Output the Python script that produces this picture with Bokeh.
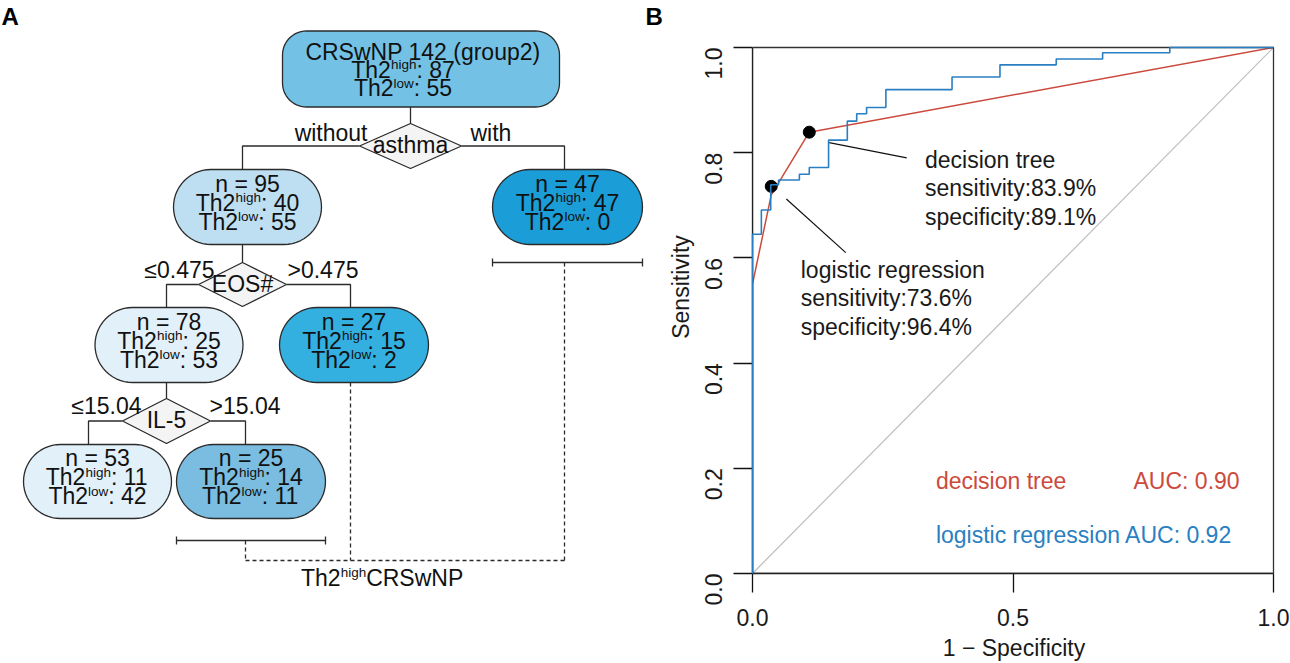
import math
from bokeh.plotting import figure
from bokeh.models import Range1d, FixedTicker, PrintfTickFormatter, BoxAnnotation
from bokeh.layouts import row
from bokeh.core.properties import value
from bokeh.embed import file_html
from bokeh.resources import INLINE

# ---------------- data: panel A (decision tree) ----------------
root_title = "CRSwNP 142 (group2)"
node_n = [142, 95, 47, 78, 27, 53, 25]
node_th2_high = [87, 40, 47, 25, 15, 11, 14]
node_th2_low = [55, 55, 0, 53, 2, 42, 11]
split_vars = ["asthma", "EOS#", "IL-5"]
split_left_labels = ["without", "≤0.475", "≤15.04"]
split_right_labels = ["with", ">0.475", ">15.04"]
split_parent = [0, 1, 3]
split_children = [(1, 2), (3, 4), (5, 6)]
positive_leaves = [2, 4, 6]
bracket_leaves = [2, 6]
leaf_group_label = ["Th2", "high", "CRSwNP"]

# ---------------- data: panel B (ROC) ----------------
lr_fpr = [0.000, 0.000, 0.017, 0.035, 0.050, 0.090, 0.109, 0.146, 0.182, 0.200,
          0.219, 0.256, 0.383, 0.475, 0.583, 0.672, 0.801, 1.000]
lr_tpr = [0.000, 0.645, 0.691, 0.739, 0.748, 0.759, 0.772, 0.824, 0.860, 0.874,
          0.886, 0.920, 0.944, 0.967, 0.978, 0.990, 1.000, 1.000]
dt_fpr = [0.0, 0.0, 0.036, 0.109, 1.0]
dt_tpr = [0.0, 0.55, 0.72, 0.839, 1.0]
cut_sens = [0.839, 0.736]   # decision tree, logistic regression
cut_spec = [0.891, 0.964]
model_names = ["decision tree", "logistic regression"]
auc_values = ["0.90", "0.92"]
x_ticks = [0.0, 0.5, 1.0]
y_ticks = [0.0, 0.2, 0.4, 0.6, 0.8, 1.0]

# ---------------- layout / style ----------------
FONT = "Liberation Sans"
BIG = 23
SUP = 13.5
PAGE_H = 663
FRAME_BOTTOM = 573          # page y of the ROC x-axis
node_cx = [420.5, 247, 567, 168.5, 353.5, 97, 250.5]
node_cy = [68.5, 206.5, 206.5, 344.5, 344.5, 481, 481]
node_w = [277, 148, 150, 148, 149, 148, 149]
node_h = [76, 75, 75, 75, 75, 74, 74]
node_r = [24, 37.5, 37.5, 37.5, 37.5, 37, 37]
node_fill = ["#73C2E6", "#BEDFF2", "#1B9DD7", "#E2F0F9", "#33B0E0", "#E2F0F9", "#7ABDE0"]
stem_x = [410, 242, 564, 166, 350, 88, 245]
dia_cy = [145.5, 284, 420.5]
dia_hw = [51, 44, 44]
dia_hh = [22.5, 22, 22.5]
split_lab_dy = [-13.5, -15, -15.5]
split_left_x = [367, 214, 141]
split_right_x = [470, 287, 209]
bracket_y = {2: 262, 6: 540}
collect_y = 560

W = {' ': .278, ':': .278, '=': .584, 'T': .611, 'h': .556, 'i': .222, 'g': .556,
     'l': .222, 'o': .556, 'w': .722, 'n': .556, 'C': .722, 'R': .722, 'S': .667,
     'N': .722, 'P': .667}


def tw(s, fs):
    return sum(W.get(c, .556) for c in s) * fs


def rrect(cx, cy, w, h, r, n=14):
    xs, ys = [], []
    cs = [(cx + w / 2 - r, cy + h / 2 - r, 0), (cx - w / 2 + r, cy + h / 2 - r, 90),
          (cx - w / 2 + r, cy - h / 2 + r, 180), (cx + w / 2 - r, cy - h / 2 + r, 270)]
    for ccx, ccy, a0 in cs:
        for k in range(n + 1):
            a = math.radians(a0 + 90 * k / n)
            xs.append(ccx + r * math.cos(a))
            ys.append(ccy + r * math.sin(a))
    return xs, ys


WA = 664
probe = figure(width=10, height=10)
CAN_UNALIGN = "frame_align" in probe.properties()
A_BOTTOM = PAGE_H if CAN_UNALIGN else FRAME_BOTTOM

pa = figure(width=WA, height=PAGE_H, x_range=Range1d(0, WA), y_range=Range1d(A_BOTTOM, 0),
            output_backend="svg", toolbar_location=None, x_axis_location=None,
            y_axis_location=None, min_border_left=0, min_border_right=0, min_border_top=0,
            min_border_bottom=PAGE_H - A_BOTTOM, outline_line_color=None)
pa.xgrid.visible = False
pa.ygrid.visible = False

# edges
exs, eys = [], []
for s, p_i in enumerate(split_parent):
    sx = stem_x[p_i]
    exs.append([sx, sx]); eys.append([node_cy[p_i] + node_h[p_i] / 2, dia_cy[s] - dia_hh[s]])
    lc, rc = split_children[s]
    exs.append([sx - dia_hw[s], stem_x[lc], stem_x[lc]])
    eys.append([dia_cy[s], dia_cy[s], node_cy[lc] - node_h[lc] / 2])
    exs.append([sx + dia_hw[s], stem_x[rc], stem_x[rc]])
    eys.append([dia_cy[s], dia_cy[s], node_cy[rc] - node_h[rc] / 2])
for b in bracket_leaves:
    x0, x1 = node_cx[b] - node_w[b] / 2, node_cx[b] + node_w[b] / 2
    y = bracket_y[b]
    exs += [[x0, x1], [x0, x0], [x1, x1]]
    eys += [[y, y], [y - 4, y + 4], [y - 4, y + 4]]
pa.multi_line(exs, eys, line_color="#2b2b2b", line_width=1.3)

# dashed collector
dxs, dys = [], []
for lf in positive_leaves:
    y0 = bracket_y[lf] if lf in bracket_y else node_cy[lf] + node_h[lf] / 2
    dxs.append([stem_x[lf], stem_x[lf]]); dys.append([y0, collect_y])
xs_pos = [stem_x[lf] for lf in positive_leaves]
dxs.append([min(xs_pos), max(xs_pos)]); dys.append([collect_y, collect_y])
pa.multi_line(dxs, dys, line_color="#2b2b2b", line_width=1.3, line_dash="4 3")

# nodes
pxs, pys = [], []
for i in range(len(node_n)):
    x, y = rrect(node_cx[i], node_cy[i], node_w[i], node_h[i], node_r[i])
    pxs.append(x); pys.append(y)
pa.patches(pxs, pys, fill_color=node_fill, line_color="#2b2b2b", line_width=1.3)

# diamonds
qxs, qys = [], []
for s, p_i in enumerate(split_parent):
    cx, cy = stem_x[p_i], dia_cy[s]
    qxs.append([cx - dia_hw[s], cx, cx + dia_hw[s], cx])
    qys.append([cy, cy - dia_hh[s], cy, cy + dia_hh[s]])
pa.patches(qxs, qys, fill_color="#F4F4F4", line_color="#2b2b2b", line_width=1.3)

# texts
big_c = dict(x=[], y=[], t=[])
big_l = dict(x=[], y=[], t=[])
big_r = dict(x=[], y=[], t=[])
sml_l = dict(x=[], y=[], t=[])


def th2_line(cx, y, sup, rest):
    total = tw("Th2", BIG) + tw(sup, SUP) + tw(rest, BIG)
    x0 = cx - total / 2
    big_l["x"].append(x0); big_l["y"].append(y); big_l["t"].append("Th2")
    x1 = x0 + tw("Th2", BIG)
    sml_l["x"].append(x1); sml_l["y"].append(y - 5); sml_l["t"].append(sup)
    x2 = x1 + tw(sup, SUP)
    big_l["x"].append(x2); big_l["y"].append(y); big_l["t"].append(rest)


for i in range(len(node_n)):
    cx, cy = node_cx[i], node_cy[i]
    if i == 0:
        big_c["x"].append(cx + 2); big_c["y"].append(cy - 17.5); big_c["t"].append(root_title)
        th2_line(cx - 18, cy + 0.5, "high", ": %d" % node_th2_high[i])
        th2_line(cx - 18, cy + 19, "low", ": %d" % node_th2_low[i])
    else:
        big_c["x"].append(cx); big_c["y"].append(cy - 23.5); big_c["t"].append("n = %d" % node_n[i])
        th2_line(cx, cy - 4.5, "high", ": %d" % node_th2_high[i])
        th2_line(cx, cy + 14.5, "low", ": %d" % node_th2_low[i])

for s, p_i in enumerate(split_parent):
    big_c["x"].append(stem_x[p_i]); big_c["y"].append(dia_cy[s] - 1); big_c["t"].append(split_vars[s])
    big_r["x"].append(split_left_x[s]); big_r["y"].append(dia_cy[s] + split_lab_dy[s]); big_r["t"].append(split_left_labels[s])
    big_l["x"].append(split_right_x[s]); big_l["y"].append(dia_cy[s] + split_lab_dy[s]); big_l["t"].append(split_right_labels[s])

# bottom group label
gy = 577 if CAN_UNALIGN else 560
gx = 300.5
for txt, fs, dy in [(leaf_group_label[0], BIG, 0), (leaf_group_label[1], SUP, -5), (leaf_group_label[2], BIG, 0)]:
    d = big_l if fs == BIG else sml_l
    d["x"].append(gx); d["y"].append(gy + dy); d["t"].append(txt)
    gx += tw(txt, fs)

for d, al, fs in [(big_c, "center", BIG), (big_l, "left", BIG), (big_r, "right", BIG), (sml_l, "left", SUP)]:
    pa.text(x=d["x"], y=d["y"], text=d["t"], text_align=al, text_baseline="middle",
            text_font=value(FONT), text_font_size="%gpx" % fs, text_color="#111111")

# panel letters
pa.text(x=[1, 645], y=[16, 16], text=["A", "B"], text_align="left", text_baseline="middle",
        text_font=value(FONT), text_font_size="24px", text_font_style="bold", text_color="#000000")

# ---------------- panel B ----------------
RED = "#CC4A3C"
BLUE = "#2A7FC2"
WB = 1290 - WA
PX_PER_UNIT_X = 521.0
PX_PER_UNIT_Y = 526.0
pb = figure(width=WB, height=PAGE_H, x_range=Range1d(0, 1 + 2 / PX_PER_UNIT_X),
            y_range=Range1d(0, FRAME_BOTTOM / PX_PER_UNIT_Y),
            output_backend="svg", toolbar_location=None,
            min_border_left=88, min_border_right=15, min_border_top=0,
            min_border_bottom=PAGE_H - FRAME_BOTTOM, outline_line_color=None)
pb.xgrid.visible = False
pb.ygrid.visible = False
if CAN_UNALIGN:
    pa.frame_align = False
    pb.frame_align = False

pb.add_layout(BoxAnnotation(left=0, right=1, bottom=0, top=1, fill_color=None, fill_alpha=0,
                            line_color="#333333", line_alpha=1.0, line_width=1.3))
pb.line([0, 1], [0, 1], line_color="#BDBDBD", line_width=1.2)
pb.line(dt_fpr, dt_tpr, line_color=RED, line_width=1.5)
r_lr = pb.step(lr_fpr, lr_tpr, mode="after", line_color=BLUE, line_width=1.6)
r_lr.level = "overlay"
cut_fpr = [1 - s for s in cut_spec]
pb.scatter(cut_fpr, cut_sens, size=12, fill_color="black", line_color="black")

# pointer lines
pb.segment(x0=[0.147, 0.065], y0=[0.819, 0.712], x1=[0.296, 0.179], y1=[0.790, 0.610],
           line_color="#111111", line_width=1.2)

ann_x = [0.331, 0.331, 0.331, 0.0926, 0.0926, 0.0926]
ann_y = [0.786, 0.732, 0.678, 0.577, 0.523, 0.469]
ann_t = [model_names[0],
         "sensitivity:%.1f%%" % (cut_sens[0] * 100),
         "specificity:%.1f%%" % (cut_spec[0] * 100),
         model_names[1],
         "sensitivity:%.1f%%" % (cut_sens[1] * 100),
         "specificity:%.1f%%" % (cut_spec[1] * 100)]
pb.text(x=ann_x, y=ann_y, text=ann_t, text_align="left", text_baseline="middle",
        text_font=value(FONT), text_font_size="23px", text_color="#1a1a1a")

pb.text(x=[0.352], y=[0.176], text=[model_names[0]], text_align="left", text_baseline="middle",
        text_font=value(FONT), text_font_size="23px", text_color=RED)
pb.text(x=[0.935], y=[0.176], text=["AUC: " + auc_values[0]], text_align="right", text_baseline="middle",
        text_font=value(FONT), text_font_size="23px", text_color=RED)
pb.text(x=[0.352], y=[0.0735], text=[model_names[1] + " AUC: " + auc_values[1]], text_align="left",
        text_baseline="middle", text_font=value(FONT), text_font_size="23px", text_color=BLUE)

for ax in (pb.xaxis[0], pb.yaxis[0]):
    ax.axis_line_color = "#111111"
    ax.axis_line_width = 1.3
    ax.major_tick_line_color = "#111111"
    ax.major_tick_line_width = 1.3
    ax.major_tick_out = 19
    ax.major_tick_in = 0
    ax.minor_tick_line_color = None
    ax.major_label_text_font = FONT
    ax.major_label_text_font_size = "23px"
    ax.major_label_text_color = "#1a1a1a"
    ax.axis_label_text_font = FONT
    ax.axis_label_text_font_size = "23px"
    ax.axis_label_text_font_style = "normal"
    ax.axis_label_text_color = "#1a1a1a"
    ax.formatter = PrintfTickFormatter(format="%.1f")

pb.xaxis.ticker = FixedTicker(ticks=x_ticks)
pb.yaxis.ticker = FixedTicker(ticks=y_ticks)
pb.yaxis.bounds = (0, 1)
pb.xaxis.bounds = (0, 1)
pb.xaxis.axis_label = "1 − Specificity"
pb.yaxis.axis_label = "Sensitivity"
pb.xaxis.major_label_standoff = 16
pb.xaxis.axis_label_standoff = 6
pb.yaxis.major_label_standoff = 20
pb.yaxis.axis_label_standoff = 0
pb.yaxis.major_label_orientation = math.pi / 2

layout = row(pa, pb)
open("out.html", "w").write(file_html(layout, INLINE))
